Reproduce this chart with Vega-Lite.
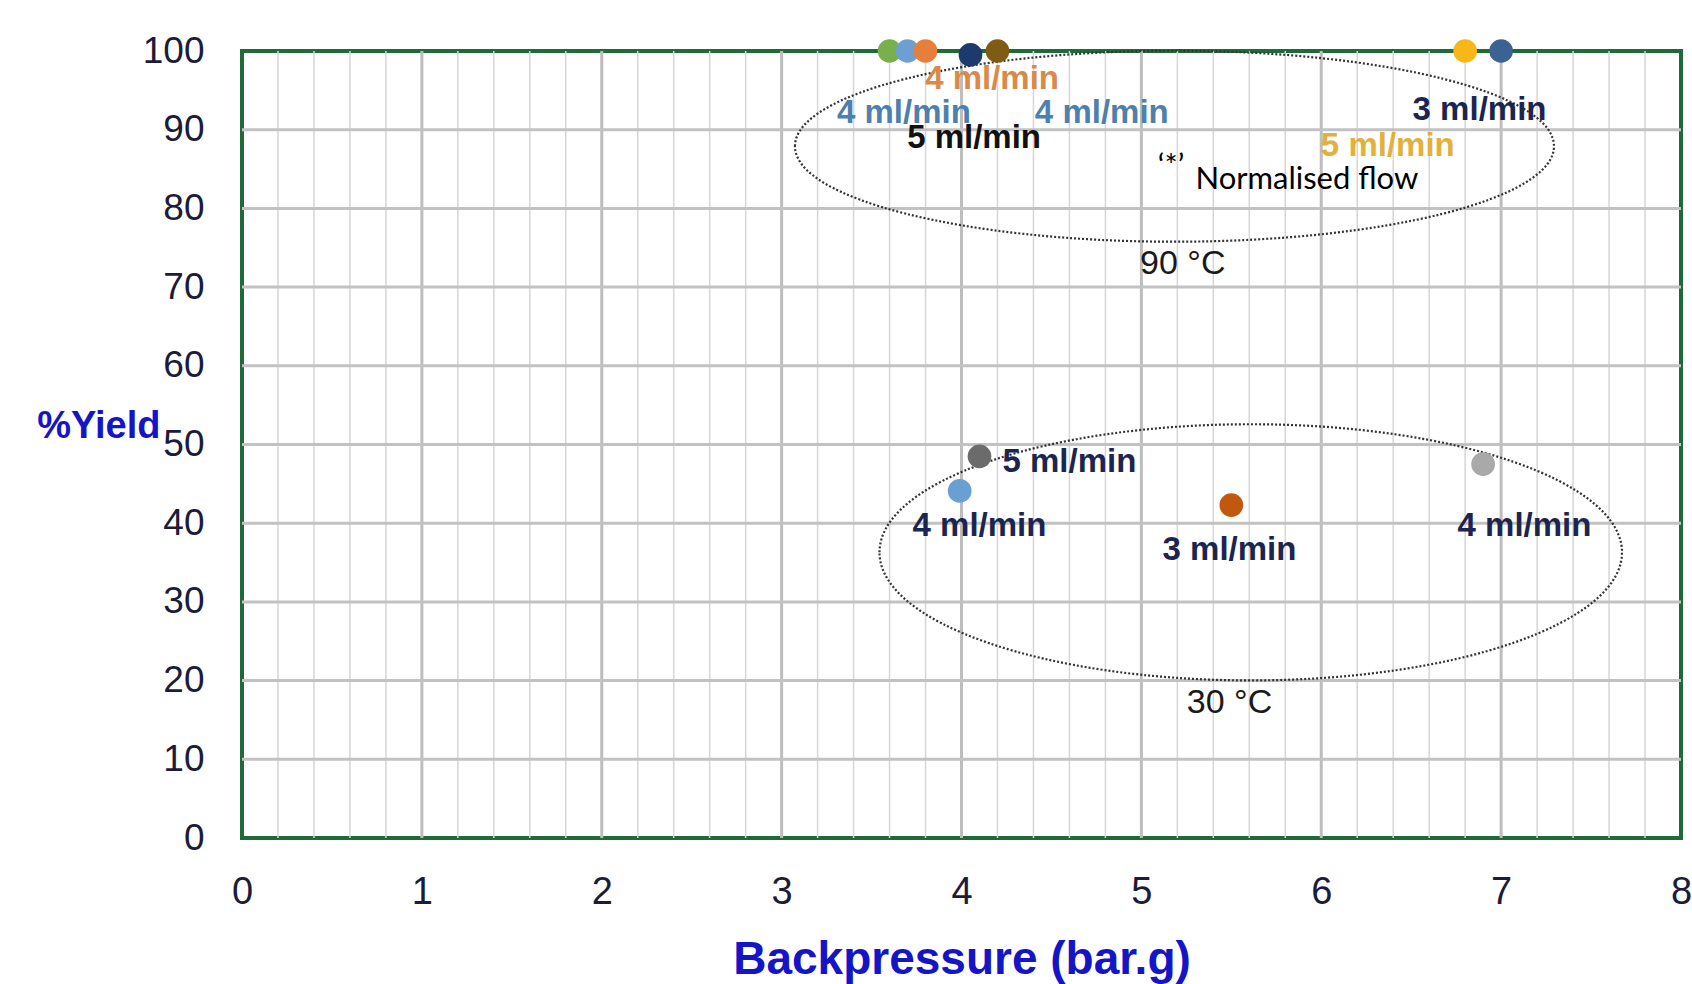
{
  "$schema": "https://vega.github.io/schema/vega-lite/v6.json",
  "autosize": "none",
  "width": 1439,
  "height": 787,
  "padding": {"left": 242, "top": 51, "right": 11, "bottom": 146},
  "background": "white",
  "config": {
    "view": {"stroke": "#1e6a38", "strokeWidth": 4},
    "axisX": {
      "domain": false, "ticks": false, "grid": false, "labelFlush": false,
      "labelFont": "Liberation Sans", "labelFontSize": 38, "labelColor": "#1b1b3a",
      "labelPadding": 35, "labelBaseline": "top",
      "titleFont": "Liberation Sans", "titleFontWeight": "bold", "titleFontSize": 46, "titleColor": "#1515c8",
      "titleY": 121, "titleBaseline": "middle"
    },
    "axisY": {
      "domain": false, "ticks": false, "grid": false,
      "labelFont": "Liberation Sans", "labelFontSize": 37, "labelColor": "#1b1b3a",
      "labelPadding": 38,
      "titleFont": "Liberation Sans", "titleFontWeight": "bold", "titleFontSize": 38, "titleColor": "#1515c8",
      "titleAngle": 0, "titleAlign": "right", "titleBaseline": "middle", "titleX": -82, "titleY": 375
    }
  },
  "datasets": {
    "minor": [
      {"x": 0.2}, {"x": 0.4}, {"x": 0.6}, {"x": 0.8},
      {"x": 1.2}, {"x": 1.4}, {"x": 1.6}, {"x": 1.8},
      {"x": 2.2}, {"x": 2.4}, {"x": 2.6}, {"x": 2.8},
      {"x": 3.2}, {"x": 3.4}, {"x": 3.6}, {"x": 3.8},
      {"x": 4.2}, {"x": 4.4}, {"x": 4.6}, {"x": 4.8},
      {"x": 5.2}, {"x": 5.4}, {"x": 5.6}, {"x": 5.8},
      {"x": 6.2}, {"x": 6.4}, {"x": 6.6}, {"x": 6.8},
      {"x": 7.2}, {"x": 7.4}, {"x": 7.6}, {"x": 7.8}
    ],
    "majorX": [{"x": 1}, {"x": 2}, {"x": 3}, {"x": 4}, {"x": 5}, {"x": 6}, {"x": 7}],
    "majorY": [{"y": 10}, {"y": 20}, {"y": 30}, {"y": 40}, {"y": 50}, {"y": 60}, {"y": 70}, {"y": 80}, {"y": 90}],
    "points": [
      {"x": 3.6, "y": 100, "s": "a"},
      {"x": 3.7, "y": 100, "s": "b"},
      {"x": 3.8, "y": 100, "s": "c"},
      {"x": 4.05, "y": 99.5, "s": "d"},
      {"x": 4.2, "y": 100, "s": "e"},
      {"x": 6.8, "y": 100, "s": "f"},
      {"x": 7.0, "y": 100, "s": "g"},
      {"x": 4.1, "y": 48.5, "s": "h"},
      {"x": 3.99, "y": 44.1, "s": "i"},
      {"x": 5.5, "y": 42.3, "s": "j"},
      {"x": 6.9, "y": 47.5, "s": "k"}
    ],
    "labels": [
      {"x": 4.17, "y": 96.4, "t": "4 ml/min", "c": "orange"},
      {"x": 3.68, "y": 92.1, "t": "4 ml/min", "c": "steel"},
      {"x": 4.78, "y": 92.1, "t": "4 ml/min", "c": "steel"},
      {"x": 4.07, "y": 88.9, "t": "5 ml/min", "c": "black"},
      {"x": 6.88, "y": 92.5, "t": "3 ml/min", "c": "navy"},
      {"x": 6.37, "y": 87.9, "t": "5 ml/min", "c": "gold"},
      {"x": 4.6, "y": 47.8, "t": "5 ml/min", "c": "navy"},
      {"x": 4.1, "y": 39.7, "t": "4 ml/min", "c": "navy"},
      {"x": 5.49, "y": 36.6, "t": "3 ml/min", "c": "navy"},
      {"x": 7.13, "y": 39.7, "t": "4 ml/min", "c": "navy"}
    ],
    "notes": [
      {"x": 5.165, "y": 85.2, "t": "‘*’"},
      {"x": 5.92, "y": 83.6, "t": "Normalised flow"}
    ],
    "temps": [
      {"x": 5.23, "y": 72.9, "t": "90 °C"},
      {"x": 5.49, "y": 17.1, "t": "30 °C"}
    ]
  },
  "resolve": {"scale": {"color": "independent"}},
  "layer": [
    {
      "data": {"name": "minor"},
      "mark": {"type": "rule", "color": "#d6d6d6", "strokeWidth": 1.5},
      "encoding": {
        "x": {"field": "x", "type": "quantitative", "scale": {"domain": [0, 8], "nice": false, "zero": false}, "title": "Backpressure (bar.g)", "axis": {"values": [0, 1, 2, 3, 4, 5, 6, 7, 8], "format": "d"}}
      }
    },
    {
      "data": {"name": "majorX"},
      "mark": {"type": "rule", "color": "#bdbdbd", "strokeWidth": 3},
      "encoding": {
        "x": {"field": "x", "type": "quantitative", "title": "Backpressure (bar.g)", "axis": {"values": [0, 1, 2, 3, 4, 5, 6, 7, 8], "format": "d"}}
      }
    },
    {
      "data": {"name": "majorY"},
      "mark": {"type": "rule", "color": "#c2c2c2", "strokeWidth": 3},
      "encoding": {
        "y": {"field": "y", "type": "quantitative", "scale": {"domain": [0, 100], "nice": false}, "title": "%Yield", "axis": {"values": [0, 10, 20, 30, 40, 50, 60, 70, 80, 90, 100]}}
      }
    },
    {
      "data": {"values": [{"x": 5.184, "y": 87.9}]},
      "mark": {
        "type": "point", "filled": false, "size": 576081,
        "shape": "M -1 0 C -1 -0.139 -0.5523 -0.2516 0 -0.2516 C 0.5523 -0.2516 1 -0.139 1 0 C 1 0.139 0.5523 0.2516 0 0.2516 C -0.5523 0.2516 -1 0.139 -1 0 Z",
        "stroke": "#333333", "strokeWidth": 2.2, "strokeDash": [2, 2], "opacity": 1
      },
      "encoding": {
        "x": {"field": "x", "type": "quantitative", "title": "Backpressure (bar.g)", "axis": {"values": [0, 1, 2, 3, 4, 5, 6, 7, 8], "format": "d"}},
        "y": {"field": "y", "type": "quantitative", "title": "%Yield", "axis": {"values": [0, 10, 20, 30, 40, 50, 60, 70, 80, 90, 100]}}
      }
    },
    {
      "data": {"values": [{"x": 5.608, "y": 36.3}]},
      "mark": {
        "type": "point", "filled": false, "size": 551300,
        "shape": "M -1 0 C -1 -0.1905 -0.5523 -0.345 0 -0.345 C 0.5523 -0.345 1 -0.1905 1 0 C 1 0.1905 0.5523 0.345 0 0.345 C -0.5523 0.345 -1 0.1905 -1 0 Z",
        "stroke": "#333333", "strokeWidth": 2.2, "strokeDash": [2, 2], "opacity": 1
      },
      "encoding": {
        "x": {"field": "x", "type": "quantitative", "title": "Backpressure (bar.g)", "axis": {"values": [0, 1, 2, 3, 4, 5, 6, 7, 8], "format": "d"}},
        "y": {"field": "y", "type": "quantitative", "title": "%Yield", "axis": {"values": [0, 10, 20, 30, 40, 50, 60, 70, 80, 90, 100]}}
      }
    },
    {
      "data": {"name": "points"},
      "mark": {"type": "circle", "size": 560, "opacity": 1},
      "encoding": {
        "x": {"field": "x", "type": "quantitative", "title": "Backpressure (bar.g)", "axis": {"values": [0, 1, 2, 3, 4, 5, 6, 7, 8], "format": "d"}},
        "y": {"field": "y", "type": "quantitative", "title": "%Yield", "axis": {"values": [0, 10, 20, 30, 40, 50, 60, 70, 80, 90, 100]}},
        "color": {
          "field": "s", "type": "nominal", "legend": null,
          "scale": {
            "domain": ["a", "b", "c", "d", "e", "f", "g", "h", "i", "j", "k"],
            "range": ["#77b04c", "#6f9fd0", "#e57f3a", "#1c3a6e", "#7f5c14", "#f7b717", "#3b6292", "#6b6b6b", "#6a9fd3", "#c0580d", "#a9a9a9"]
          }
        }
      }
    },
    {
      "data": {"name": "labels"},
      "mark": {"type": "text", "font": "Liberation Sans", "fontWeight": "bold", "fontSize": 33, "align": "center", "baseline": "middle"},
      "encoding": {
        "x": {"field": "x", "type": "quantitative", "title": "Backpressure (bar.g)", "axis": {"values": [0, 1, 2, 3, 4, 5, 6, 7, 8], "format": "d"}},
        "y": {"field": "y", "type": "quantitative", "title": "%Yield", "axis": {"values": [0, 10, 20, 30, 40, 50, 60, 70, 80, 90, 100]}},
        "text": {"field": "t"},
        "color": {
          "field": "c", "type": "nominal", "legend": null,
          "scale": {
            "domain": ["orange", "steel", "black", "navy", "gold"],
            "range": ["#d98a4a", "#4f7fae", "#111111", "#1b2550", "#e2b13c"]
          }
        }
      }
    },
    {
      "data": {"name": "notes"},
      "mark": {"type": "text", "font": "Lato", "fontSize": 31, "align": "center", "baseline": "middle", "color": "#000000"},
      "encoding": {
        "x": {"field": "x", "type": "quantitative", "title": "Backpressure (bar.g)", "axis": {"values": [0, 1, 2, 3, 4, 5, 6, 7, 8], "format": "d"}},
        "y": {"field": "y", "type": "quantitative", "title": "%Yield", "axis": {"values": [0, 10, 20, 30, 40, 50, 60, 70, 80, 90, 100]}},
        "text": {"field": "t"}
      }
    },
    {
      "data": {"name": "temps"},
      "mark": {"type": "text", "font": "Liberation Sans", "fontSize": 34, "align": "center", "baseline": "middle", "color": "#1a1a1a"},
      "encoding": {
        "x": {"field": "x", "type": "quantitative", "title": "Backpressure (bar.g)", "axis": {"values": [0, 1, 2, 3, 4, 5, 6, 7, 8], "format": "d"}},
        "y": {"field": "y", "type": "quantitative", "title": "%Yield", "axis": {"values": [0, 10, 20, 30, 40, 50, 60, 70, 80, 90, 100]}},
        "text": {"field": "t"}
      }
    }
  ]
}
